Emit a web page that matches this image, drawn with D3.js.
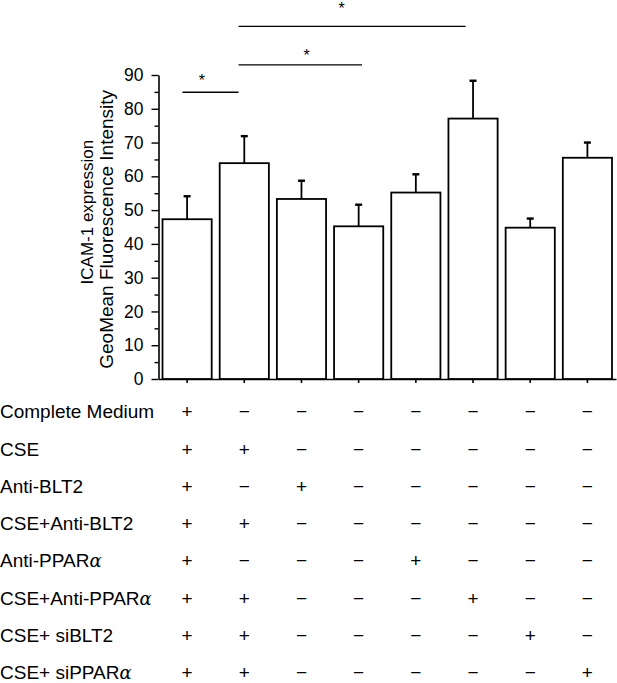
<!DOCTYPE html>
<html>
<head>
<meta charset="utf-8">
<script src="https://cdn.jsdelivr.net/npm/d3@7/dist/d3.min.js"></script>
<style>
  html, body { margin: 0; padding: 0; background: #fff; }
  svg { display: block; }
  text { font-family: "Liberation Sans", Arial, Helvetica, sans-serif; fill: #000; }
</style>
</head>
<body>
<script>
// ---------- data ----------
const groups = ["G1", "G2", "G3", "G4", "G5", "G6", "G7", "G8"];
const means  = [47.3, 63.9, 53.3, 45.2, 55.2, 77.1, 44.8, 65.5];
const errTop = [54.1, 71.9, 58.7, 51.6, 60.6, 88.3, 47.5, 70.0];
const yTicks = [0, 10, 20, 30, 40, 50, 60, 70, 80, 90];
const yMinorTicks = [5, 15, 25, 35, 45, 55, 65, 75, 85];
const yLabelLines = ["ICAM-1 expression", "GeoMean Fluorescence Intensity"];

// treatment table (rows), label parts: [plain text, greek suffix]
const rowLabels = [
  ["Complete Medium", ""],
  ["CSE", ""],
  ["Anti-BLT2", ""],
  ["CSE+Anti-BLT2", ""],
  ["Anti-PPAR", "\u03B1"],
  ["CSE+Anti-PPAR", "\u03B1"],
  ["CSE+ siBLT2", ""],
  ["CSE+ siPPAR", "\u03B1"]
];
const tableSigns = [
  ["+", "-", "-", "-", "-", "-", "-", "-"],
  ["+", "+", "-", "-", "-", "-", "-", "-"],
  ["+", "-", "+", "-", "-", "-", "-", "-"],
  ["+", "+", "-", "-", "-", "-", "-", "-"],
  ["+", "-", "-", "-", "+", "-", "-", "-"],
  ["+", "+", "-", "-", "-", "+", "-", "-"],
  ["+", "+", "-", "-", "-", "-", "+", "-"],
  ["+", "+", "-", "-", "-", "-", "-", "+"]
];

// significance brackets: positions in group-index units, level in y units
const sigFrom  = [-0.08, 0.90, 0.90];
const sigTo    = [0.90, 3.06, 4.87];
const sigLevel = [84.9, 93.0, 104.4];
const sigStarX = [0.26, 2.09, 2.70];
const sigStarY = [88.9, 96.2, 110.0];

// ---------- layout ----------
const W = 617, H = 683;
const svg = d3.select("body").append("svg").attr("width", W).attr("height", H);

const x = d3.scaleBand().domain(groups).range([158.5, 616]).paddingInner(0.14).paddingOuter(0.07);
const xi = d3.scaleLinear().domain([0, 1]).range([x(groups[0]) + x.bandwidth() / 2, x(groups[1]) + x.bandwidth() / 2]);
const y = d3.scaleLinear().domain([0, 90]).range([379, 75]);

// y axis
const yAxisG = svg.append("g").attr("transform", "translate(158.5,0)");
yAxisG.call(d3.axisLeft(y).tickValues(yMinorTicks).tickSize(4).tickFormat(""));
yAxisG.call(g => g.select(".domain").remove());
const yAxisMajor = svg.append("g").attr("transform", "translate(158.5,0)")
  .call(d3.axisLeft(y).tickValues(yTicks).tickSize(7).tickPadding(8).tickSizeOuter(0));
[yAxisG, yAxisMajor].forEach(g => {
  g.selectAll("line").attr("stroke", "#000").attr("stroke-width", 1.4);
  g.selectAll(".domain").attr("stroke", "#000").attr("stroke-width", 1.6);
});
yAxisMajor.selectAll("text").attr("font-size", 17.5).attr("font-family", "Liberation Sans, Arial, sans-serif").attr("fill", "#000");

// x axis
const xAxisG = svg.append("g").attr("transform", "translate(0,379)")
  .call(d3.axisBottom(x).tickSize(4).tickSizeOuter(0).tickFormat(""));
xAxisG.selectAll("line").attr("stroke", "#000").attr("stroke-width", 1.6);
xAxisG.select(".domain").attr("stroke", "#000").attr("stroke-width", 1.6);

// bars
svg.append("g").selectAll("rect").data(groups).join("rect")
  .attr("x", d => x(d))
  .attr("y", (d, i) => y(means[i]))
  .attr("width", x.bandwidth())
  .attr("height", (d, i) => y(0) - y(means[i]))
  .attr("fill", "#fff").attr("stroke", "#000").attr("stroke-width", 1.8);

// error bars
const eb = svg.append("g");
eb.selectAll("line.v").data(groups).join("line").attr("class", "v")
  .attr("x1", d => x(d) + x.bandwidth() / 2).attr("x2", d => x(d) + x.bandwidth() / 2)
  .attr("y1", (d, i) => y(means[i])).attr("y2", (d, i) => y(errTop[i]))
  .attr("stroke", "#000").attr("stroke-width", 1.8);
eb.selectAll("line.c").data(groups).join("line").attr("class", "c")
  .attr("x1", d => x(d) + x.bandwidth() / 2 - 3.5).attr("x2", d => x(d) + x.bandwidth() / 2 + 3.5)
  .attr("y1", (d, i) => y(errTop[i])).attr("y2", (d, i) => y(errTop[i]))
  .attr("stroke", "#000").attr("stroke-width", 2.4);

// significance lines
const sg = svg.append("g");
sg.selectAll("line").data(sigLevel).join("line")
  .attr("x1", (d, i) => xi(sigFrom[i])).attr("x2", (d, i) => xi(sigTo[i]))
  .attr("y1", d => y(d)).attr("y2", d => y(d))
  .attr("stroke", "#000").attr("stroke-width", 1.4);
sg.selectAll("text").data(sigStarY).join("text")
  .attr("x", (d, i) => xi(sigStarX[i])).attr("y", d => y(d) + 7)
  .attr("text-anchor", "middle").attr("font-size", 16).text("*");

// y axis label
svg.append("text").attr("transform", `translate(93,${y(49.4)}) rotate(-90)`)
  .attr("text-anchor", "middle").attr("font-size", 17).text(yLabelLines[0]);
svg.append("text").attr("transform", `translate(113,${y(44.3)}) rotate(-90)`)
  .attr("text-anchor", "middle").attr("font-size", 19).text(yLabelLines[1]);

// treatment table
const rowsY = d3.scalePoint().domain(d3.range(rowLabels.length)).range([411.5, 672.5]);
const tbl = svg.append("g");
rowLabels.forEach((lab, r) => {
  const t = tbl.append("text").attr("x", 0).attr("y", rowsY(r)).attr("dy", "0.36em").attr("font-size", 19);
  t.append("tspan").text(lab[0]);
  if (lab[1]) t.append("tspan").attr("font-family", "DejaVu Serif, Liberation Serif, serif").attr("font-style", "italic").attr("font-size", 18).text(lab[1]);
  tableSigns[r].forEach((s, c) => {
    tbl.append("text").attr("x", x(groups[c]) + x.bandwidth() / 2).attr("y", rowsY(r)).attr("dy", "0.36em")
      .attr("text-anchor", "middle").attr("font-size", 19)
      .text(s === "+" ? "+" : "\u2212");
  });
});
</script>
</body>
</html>
